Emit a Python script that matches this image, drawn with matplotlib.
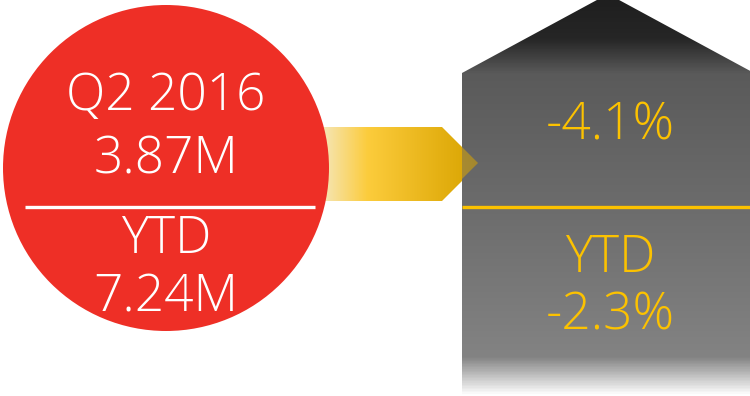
import numpy as np
import matplotlib
matplotlib.use("Agg")
import matplotlib.pyplot as plt
from matplotlib.colors import LinearSegmentedColormap
from matplotlib.patches import Circle, Polygon

plt.rcParams['font.family'] = ['Open Sans', 'DejaVu Sans']

# figures shown in the infographic
period = "Q2 2016"
sales_m = [3.87, 7.24]        # quarter, year to date (millions)
change_pct = [-4.1, -2.3]     # quarter, year to date (%)

W, H = 750, 396
fig = plt.figure(figsize=(7.5, 3.96), dpi=100)
ax = fig.add_axes([0, 0, 1, 1])
ax.set_xlim(0, W)
ax.set_ylim(H, 0)
ax.axis('off')

red = '#ee2f26'
gold = '#fcc200'

# grey house with vertical gradient
house = Polygon([(462, 73), (608, -6), (754, 73), (754, 400), (462, 400)],
                closed=True, facecolor='none', edgecolor='none')
ax.add_patch(house)
grey = LinearSegmentedColormap.from_list('grey', [
    (0.0, '#1f1f1f'), (38 / H, '#262626'), (73 / H, '#5a5a5a'),
    (207 / H, '#6c6c6c'), (358 / H, '#838383'), (1.0, '#ffffff')])
g = np.linspace(0, 1, 400).reshape(-1, 1)
im = ax.imshow(g, cmap=grey, aspect='auto', extent=(462, 754, H, 0),
               interpolation='bilinear', zorder=1)
im.set_clip_path(house)

# yellow arrow with horizontal gradient
arrow_cm = LinearSegmentedColormap.from_list('arrow', [
    (0.0, '#f5e7bd'), (0.3, '#fccc3c'), (0.75, '#e5b114'), (1.0, '#d8a400')])
body = Polygon([(320, 127), (442, 127), (462, 147), (462, 181), (442, 201), (320, 201)],
               closed=True, facecolor='none', edgecolor='none')
tip = Polygon([(462, 147), (478, 163), (462, 179)],
              closed=True, facecolor='none', edgecolor='none')
ax.add_patch(body)
ax.add_patch(tip)
h = np.linspace(0, 1, 300).reshape(1, -1)
im1 = ax.imshow(h, cmap=arrow_cm, aspect='auto', extent=(320, 478, 201, 127),
                interpolation='bilinear', zorder=2)
im1.set_clip_path(body)
im2 = ax.imshow(h, cmap=arrow_cm, aspect='auto', extent=(320, 478, 201, 127),
                interpolation='bilinear', zorder=2, alpha=0.55)
im2.set_clip_path(tip)

# red circle
ax.add_patch(Circle((166, 168), 163, facecolor=red, edgecolor='none', zorder=3))
ax.plot([25, 315], [207, 207], color='white', lw=2.4, zorder=4, solid_capstyle='butt')
ax.plot([462, 754], [207, 207], color=gold, lw=2.4, zorder=4, solid_capstyle='butt')

fs = 37
txt = dict(ha='center', va='baseline', fontsize=fs, fontweight='light', zorder=5)
ax.text(166, 110, period, color='white', **txt)
ax.text(166, 173, f"{sales_m[0]:.2f}M", color='white', **txt)
ax.text(166, 253, "YTD", color='white', **txt)
ax.text(166, 311, f"{sales_m[1]:.2f}M", color='white', **txt)

ax.text(610, 139, f"{change_pct[0]:.1f}%", color=gold, **txt)
ax.text(610, 272, "YTD", color=gold, **txt)
ax.text(610, 329, f"{change_pct[1]:.1f}%", color=gold, **txt)

fig.savefig('out.png', dpi=100, facecolor='white')
